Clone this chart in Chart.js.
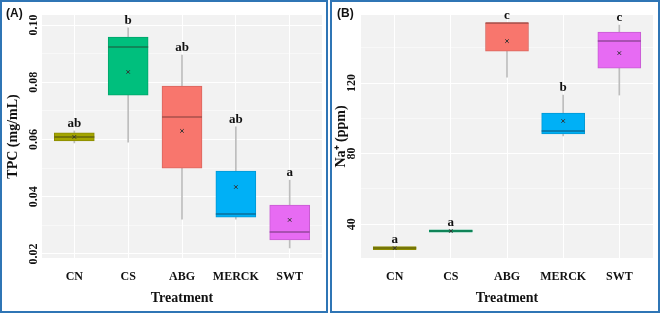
<!DOCTYPE html>
<html>
<head>
<meta charset="utf-8">
<script src="https://cdn.jsdelivr.net/npm/chart.js@4.4.1/dist/chart.umd.min.js"></script>
<style>
  html, body { margin: 0; padding: 0; background: #fff; width: 661px; height: 315px; overflow: hidden; }
  .panel { position: absolute; top: 0; height: 313px; border: 2px solid #2f75b5; box-sizing: border-box; }
  .panel canvas { display: block; }
  .tag { position: absolute; top: 4px; font: bold 12px 'Liberation Sans', Arial, sans-serif; color: #111; line-height: 14px; }
</style>
</head>
<body>
<div class="panel" style="left:0;width:328px">
  <canvas id="chartA" width="324" height="309"></canvas>
  <span class="tag" style="left:4px">(A)</span>
</div>
<div class="panel" style="left:330px;width:330px">
  <canvas id="chartB" width="326" height="309"></canvas>
  <span class="tag" style="left:5px">(B)</span>
</div>
<script>
const categories = ['CN', 'CS', 'ABG', 'MERCK', 'SWT'];

// (A) TPC (mg/mL)
const tpcMin    = [0.0588, 0.0591, 0.0322, 0.0322, 0.0221];
const tpcQ1     = [0.0595, 0.0755, 0.0500, 0.0329, 0.0249];
const tpcMedian = [0.0609, 0.0923, 0.0679, 0.0340, 0.0277];
const tpcQ3     = [0.0623, 0.0958, 0.0787, 0.0490, 0.0371];
const tpcMax    = [0.0630, 0.0990, 0.0895, 0.0644, 0.0458];
const tpcMean   = [0.0609, 0.0836, 0.0630, 0.0434, 0.0319];
const tpcLetters = ['ab', 'b', 'ab', 'ab', 'a'];
const tpcTicks = [0.02, 0.04, 0.06, 0.08, 0.10];

// (B) Na+ (ppm)
const naMin    = [25.5, 35.4, 123.4, 90.0, 113.2];
const naQ1     = [25.5, 35.4, 138.1, 91.1, 128.5];
const naMedian = [26.4, 36.1, 154.0, 92.8, 143.8];
const naQ3     = [27.3, 36.8, 154.0, 103.0, 148.9];
const naMax    = [27.3, 36.8, 154.0, 113.2, 152.9];
const naMean   = [26.4, 36.1, 143.8, 98.5, 137.0];
const naLetters = ['a', 'a', 'c', 'b', 'c'];
const naTicks = [40, 80, 120];

// ggplot hues, per treatment
const fills   = ['#A3A500', '#00BF7D', '#F8766D', '#00B0F6', '#E76BF3'];
const borders = ['#8C8C00', '#00A56B', '#D9665F', '#0098D4', '#C75CD2'];
const medians = ['#66660A', '#16754F', '#A8504B', '#0A6E9A', '#94479C'];

const SERIF = "'Liberation Serif', 'Times New Roman', serif";
Chart.defaults.font.family = SERIF;
Chart.defaults.color = '#111';

const decor = {
    id: 'decor',
    beforeDraw(chart) {
        const {ctx, chartArea: a} = chart;
        ctx.save();
        ctx.fillStyle = '#F2F2F2';
        ctx.fillRect(a.left, a.top, a.width, a.height);
        ctx.restore();
    },
    afterDatasetsDraw(chart, args, opts) {
        const {ctx} = chart;
        const xs = chart.scales.x, ys = chart.scales.y;
        ctx.save();
        ctx.font = 'bold 13px ' + SERIF;
        ctx.fillStyle = '#111';
        ctx.textAlign = 'center';
        ctx.textBaseline = 'alphabetic';
        opts.letters.forEach((t, i) => {
            ctx.fillText(t, xs.getPixelForValue(i + 1), ys.getPixelForValue(opts.tops[i]) - 4);
        });
        ctx.restore();
    }
};

function isMajor(list, v) {
    return list.some(m => Math.abs(m - v) < 1e-9);
}

function makeChart(id, s) {
    const pts = arr => arr.map((v, i) => ({x: i + 1, y: v}));
    const rng = (a, b) => a.map((v, i) => ({x: i + 1, y: [v, b[i]]}));
    const step = s.ticks[1] - s.ticks[0];
    const grid = [];
    s.ticks.forEach((t, i) => {
        grid.push(t);
        if (i < s.ticks.length - 1) grid.push(t + step / 2);
    });
    if (s.ticks[0] - step / 2 > s.yMin) grid.unshift(s.ticks[0] - step / 2);
    if (s.ticks[s.ticks.length - 1] + step / 2 < s.yMax) grid.push(s.ticks[s.ticks.length - 1] + step / 2);

    return new Chart(document.getElementById(id), {
        data: {
            datasets: [
                {
                    type: 'line', label: 'mean', data: pts(s.mean), showLine: false,
                    pointStyle: 'crossRot', pointRadius: 2.5, borderWidth: 1,
                    borderColor: '#333', backgroundColor: '#333'
                },
                {
                    type: 'line', label: 'median', data: pts(s.median), showLine: false,
                    pointStyle: 'line', pointRadius: s.boxW / 2, borderWidth: 1.5,
                    borderColor: medians, backgroundColor: medians
                },
                {
                    type: 'bar', label: 'box', data: rng(s.q1, s.q3), grouped: false,
                    barThickness: s.boxW, backgroundColor: fills, borderColor: borders,
                    borderWidth: 1, borderSkipped: false
                },
                {
                    type: 'bar', label: 'whisker', data: rng(s.min, s.max), grouped: false,
                    barThickness: 1, backgroundColor: '#BDBDBD', borderWidth: 0
                }
            ]
        },
        options: {
            responsive: false,
            animation: false,
            events: [],
            layout: { autoPadding: false, padding: { top: 13, right: s.padRight, left: 0, bottom: 0 } },
            plugins: {
                legend: { display: false },
                tooltip: { enabled: false },
                decor: { letters: s.letters, tops: s.max }
            },
            scales: {
                x: {
                    type: 'linear', min: 0.4, max: 5.6, offset: false,
                    afterBuildTicks: ax => { ax.ticks = categories.map((c, i) => ({value: i + 1})); },
                    afterFit: ax => { ax.height = 53; ax.paddingLeft = 0; ax.paddingRight = 0; },
                    border: { display: false },
                    grid: { color: '#FFFFFF', lineWidth: 1, drawTicks: false, offset: false },
                    ticks: {
                        padding: 12, color: '#111',
                        font: { size: 12, weight: 'bold' },
                        callback: v => categories[Math.round(v) - 1]
                    },
                    title: {
                        display: true, text: 'Treatment', color: '#111',
                        font: { size: 14, weight: 'bold' },
                        padding: { top: 0, bottom: 4 }
                    }
                },
                y: {
                    type: 'linear', min: s.yMin, max: s.yMax,
                    afterBuildTicks: ax => { ax.ticks = grid.map(v => ({value: v})); },
                    afterFit: ax => { ax.width = s.yWidth; ax.paddingTop = 0; ax.paddingBottom = 0; },
                    border: { display: false },
                    grid: {
                        color: '#FFFFFF', drawTicks: false,
                        lineWidth: c => isMajor(s.ticks, c.tick.value) ? 1 : 0.5
                    },
                    ticks: {
                        minRotation: 90, maxRotation: 90, crossAlign: 'center',
                        padding: s.tickPad, color: '#111',
                        font: { size: 12, weight: 'bold' },
                        callback: v => isMajor(s.ticks, v) ? s.fmt(v) : ''
                    },
                    title: {
                        display: true, text: s.title, color: '#111',
                        font: { size: 14, weight: 'bold' },
                        padding: { top: s.titlePad, bottom: 0 }
                    }
                }
            }
        },
        plugins: [decor]
    });
}

makeChart('chartA', {
    min: tpcMin, q1: tpcQ1, median: tpcMedian, q3: tpcQ3, max: tpcMax, mean: tpcMean,
    letters: tpcLetters, ticks: tpcTicks, yMin: 0.0186, yMax: 0.1035,
    fmt: v => v.toFixed(2), title: 'TPC (mg/mL)',
    boxW: 40, padRight: 4, yWidth: 40, tickPad: -2, titlePad: 3
});

makeChart('chartB', {
    min: naMin, q1: naQ1, median: naMedian, q3: naQ3, max: naMax, mean: naMean,
    letters: naLetters, ticks: naTicks, yMin: 20.8, yMax: 158.6,
    fmt: v => String(v), title: 'Na\u207A (ppm)',
    boxW: 43, padRight: 5, yWidth: 29, tickPad: 0, titlePad: 1
});
</script>
</body>
</html>
